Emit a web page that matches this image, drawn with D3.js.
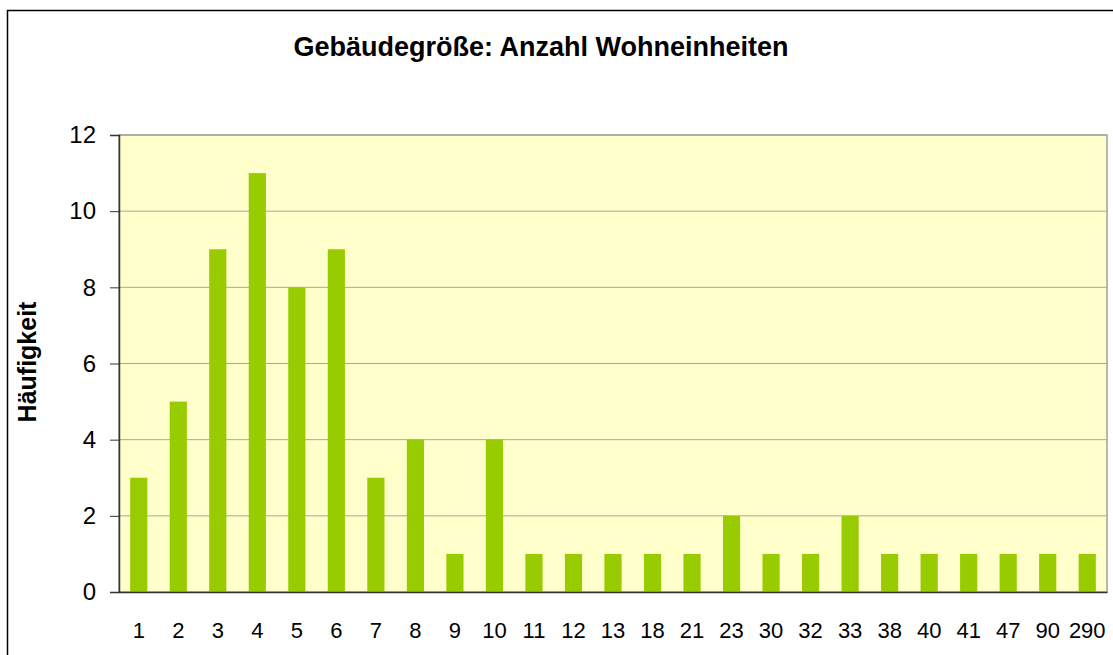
<!DOCTYPE html>
<html>
<head>
<meta charset="utf-8">
<script src="https://cdn.jsdelivr.net/npm/d3@7"></script>
<style>
  body { margin: 0; background: #fff; }
  text { font-family: "Liberation Sans", Arial, sans-serif; }
</style>
</head>
<body>
<div id="chart"></div>
<script>
// Gebäudegröße: Anzahl Wohneinheiten
const categories = ["1","2","3","4","5","6","7","8","9","10","11","12","13","18","21","23","30","32","33","38","40","41","47","90","290"];
const counts = [3,5,9,11,8,9,3,4,1,4,1,1,1,1,1,2,1,1,2,1,1,1,1,1,1];
const yTicks = [0,2,4,6,8,10,12];

const w = 1113, h = 655;
const plot = {left: 119, right: 1107, top: 135, bottom: 592};

const svg = d3.select('#chart')
  .append('svg')
  .attr('width', w)
  .attr('height', h);

// outer chart frame
svg.append('rect')
  .attr('x', 7.5).attr('y', 10.5)
  .attr('width', w + 10).attr('height', h + 10)
  .attr('fill', '#fff')
  .attr('stroke', '#000')
  .attr('stroke-width', 1.5);

const x = d3.scaleBand()
  .domain(categories)
  .range([plot.left, plot.right])
  .paddingInner(0.565)
  .paddingOuter(0.2825);

const y = d3.scaleLinear()
  .domain([0, 12])
  .range([plot.bottom, plot.top]);

// plot background
svg.append('rect')
  .attr('x', plot.left).attr('y', plot.top)
  .attr('width', plot.right - plot.left)
  .attr('height', plot.bottom - plot.top)
  .attr('fill', '#ffffcc')
  .attr('stroke', '#a0a0a0')
  .attr('stroke-width', 1.5);

// gridlines
svg.selectAll('line.grid')
  .data(yTicks.filter(d => d > 0))
  .enter()
  .append('line')
  .attr('class', 'grid')
  .attr('x1', plot.left).attr('x2', plot.right)
  .attr('y1', d => y(d)).attr('y2', d => y(d))
  .attr('stroke', '#a6a6a6')
  .attr('stroke-width', 1);

// bars
svg.selectAll('rect.bar')
  .data(counts)
  .enter()
  .append('rect')
  .attr('class', 'bar')
  .attr('x', (d, i) => x(categories[i]))
  .attr('y', d => y(d))
  .attr('width', x.bandwidth())
  .attr('height', d => y(0) - y(d))
  .attr('fill', '#99cc00');

// y axis
const yAxis = svg.append('g')
  .attr('transform', 'translate(' + plot.left + ',0)')
  .call(d3.axisLeft(y).tickValues(yTicks).tickSize(9).tickPadding(14).tickFormat(d3.format('d')));
yAxis.select('.domain').attr('stroke', '#333').attr('stroke-width', 1.5);
yAxis.selectAll('.tick line').attr('stroke', '#333');
yAxis.selectAll('text').attr('font-size', 24).attr('fill', '#000')
  .style('font-family', '"Liberation Sans", Arial, sans-serif');

// x axis
const xAxis = svg.append('g')
  .attr('transform', 'translate(0,' + plot.bottom + ')')
  .call(d3.axisBottom(x).tickSize(0).tickPadding(30));
xAxis.select('.domain').attr('stroke', '#333').attr('stroke-width', 1.5);
xAxis.selectAll('text').attr('font-size', 22).attr('fill', '#000')
  .style('font-family', '"Liberation Sans", Arial, sans-serif');

// title
svg.append('text')
  .attr('x', 541).attr('y', 56)
  .attr('text-anchor', 'middle')
  .attr('font-size', 27)
  .attr('font-weight', 'bold')
  .text('Gebäudegröße: Anzahl Wohneinheiten');

// y label
svg.append('text')
  .attr('transform', 'translate(36,362) rotate(-90)')
  .attr('text-anchor', 'middle')
  .attr('font-size', 25)
  .attr('font-weight', 'bold')
  .text('Häufigkeit');
</script>
</body>
</html>
